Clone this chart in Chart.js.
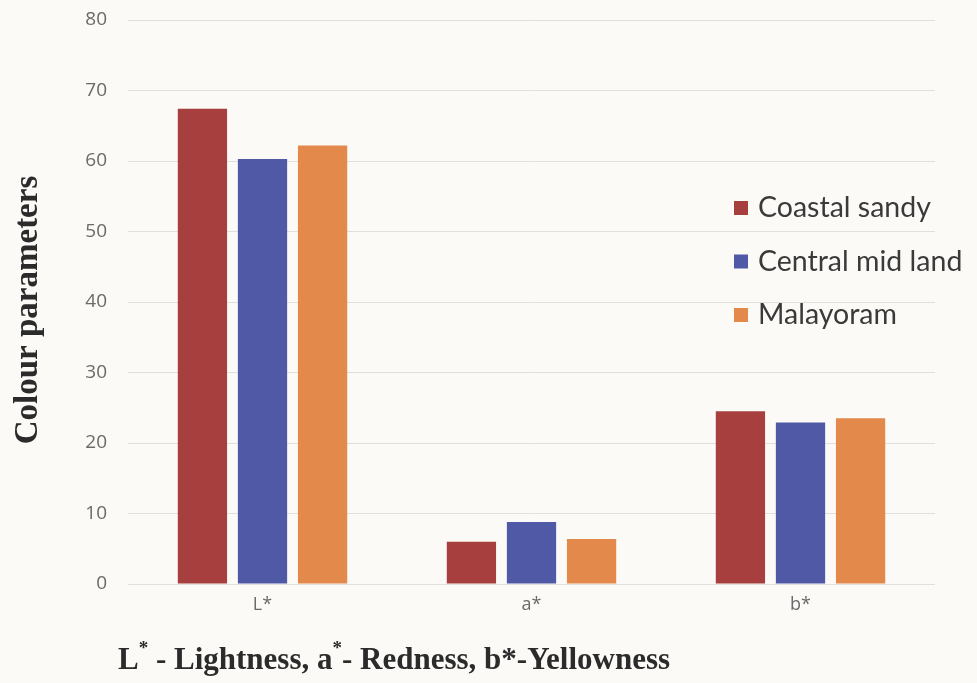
<!DOCTYPE html>
<html>
<head>
<meta charset="utf-8">
<script src="https://cdn.jsdelivr.net/npm/chart.js@4.4.1/dist/chart.umd.min.js"></script>
<style>
  html, body { margin: 0; padding: 0; background: #fbfaf7; }
  #wrap { position: relative; width: 977px; height: 683px; }
</style>
</head>
<body>
<div id="wrap"><canvas id="c" width="977" height="683"></canvas></div>
<script>
// Soil colour parameters (CIE L*a*b*) by sampling region
const categories = ['L*', 'a*', 'b*'];
const seriesNames = ['Coastal sandy', 'Central mid land', 'Malayoram'];
const coastalSandy = [67.4, 6.0, 24.5];
const centralMidLand = [60.3, 8.8, 22.9];
const malayoram = [62.2, 6.4, 23.5];
const yTicks = [0, 10, 20, 30, 40, 50, 60, 70, 80];
const seriesColors = ['#a63f3e', '#5059a6', '#e2894b'];

const yTitle = 'Colour parameters';
// x-axis caption, split into runs so the asterisks after L and a can be raised
const xTitleRuns = [
  { t: 'L', sup: false }, { t: '*', sup: true },
  { t: ' - Lightness, a', sup: false }, { t: '*', sup: true },
  { t: '- Redness, b*-Yellowness', sup: false }
];

const values = [coastalSandy, centralMidLand, malayoram];

// legend drawn over the plot area, at the right
const overlayLegend = {
  id: 'overlayLegend',
  afterDraw(chart) {
    const ctx = chart.ctx;
    ctx.save();
    chart.data.datasets.forEach((ds, i) => {
      const y = 208 + i * 53.5;
      ctx.fillStyle = ds.backgroundColor;
      ctx.fillRect(734, y - 7, 14, 14);
      ctx.fillStyle = '#3a3a3a';
      ctx.font = '28.5px Lato, "Open Sans", sans-serif';
      ctx.textBaseline = 'middle';
      ctx.textAlign = 'left';
      ctx.fillText(ds.label, 758, y);
    });
    ctx.restore();
  }
};

// axis captions in bold serif
const captions = {
  id: 'captions',
  afterDraw(chart) {
    const ctx = chart.ctx;
    ctx.save();
    ctx.fillStyle = '#2b2b2b';
    ctx.textBaseline = 'middle';
    // vertical y caption
    ctx.save();
    ctx.font = 'bold 33px "Liberation Serif", "DejaVu Serif", serif';
    ctx.translate(28, 310);
    ctx.rotate(-Math.PI / 2);
    ctx.textAlign = 'center';
    ctx.fillText(yTitle, 0, 0);
    ctx.restore();
    // x caption with superscripts
    let x = 118;
    const y = 661;
    ctx.textAlign = 'left';
    xTitleRuns.forEach(r => {
      if (r.sup) {
        ctx.font = 'bold 19px "Liberation Serif", "DejaVu Serif", serif';
        ctx.fillText(r.t, x, y - 12);
      } else {
        ctx.font = 'bold 31px "Liberation Serif", "DejaVu Serif", serif';
        ctx.fillText(r.t, x, y);
      }
      x += ctx.measureText(r.t).width;
    });
    ctx.restore();
  }
};

new Chart(document.getElementById('c'), {
  type: 'bar',
  data: {
    labels: categories,
    datasets: seriesNames.map((name, i) => ({
      label: name,
      data: values[i],
      backgroundColor: seriesColors[i],
      borderWidth: 0,
      categoryPercentage: 0.67,
      barPercentage: 0.82
    }))
  },
  options: {
    responsive: false,
    animation: false,
    layout: { padding: { top: 0, right: 42, left: 0, bottom: 0 } },
    plugins: {
      legend: { display: false },
      tooltip: { enabled: false }
    },
    scales: {
      x: {
        grid: { display: false, drawTicks: false },
        border: { display: false },
        ticks: {
          color: '#6a6a6a',
          font: { family: '"Open Sans", "Liberation Sans", sans-serif', size: 18 },
          padding: 10
        },
        afterFit(scale) { scale.height = 99; }
      },
      y: {
        min: 0,
        max: 80,
        afterBuildTicks(scale) { scale.ticks = yTicks.map(v => ({ value: v })); },
        grid: { color: '#e0dfdc', lineWidth: 1, drawTicks: false },
        border: { display: false },
        ticks: {
          color: '#6a6a6a',
          font: { family: '"Open Sans", "Liberation Sans", sans-serif', size: 19 },
          padding: 21
        },
        afterFit(scale) {
          scale.width = 128;
          scale.paddingTop = 20;
          scale.paddingBottom = 0;
        }
      }
    }
  },
  plugins: [overlayLegend, captions]
});
</script>
</body>
</html>
